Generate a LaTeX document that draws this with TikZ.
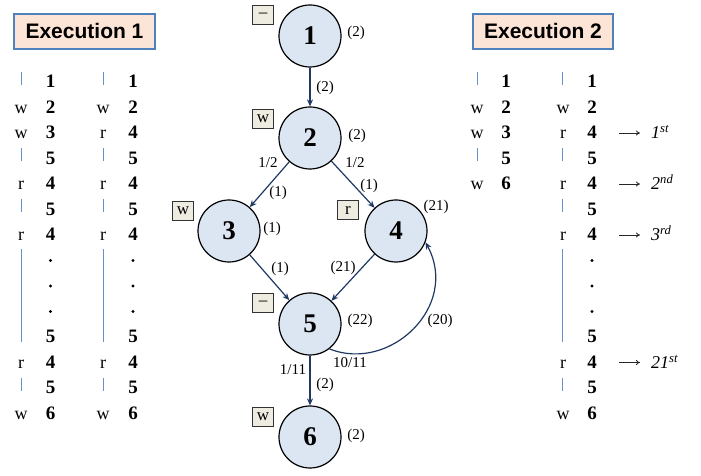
\documentclass[tikz,border=0pt]{standalone}
\usepackage{fontspec}
\setmainfont{Liberation Serif}
\newfontfamily\headfont{Liberation Sans}
\usetikzlibrary{arrows.meta,calc}
\definecolor{nodefill}{RGB}{220,230,242}
\definecolor{edgecol}{RGB}{31,56,100}
\definecolor{headfill}{RGB}{252,228,214}
\definecolor{headline}{RGB}{79,129,189}
\definecolor{tagfill}{RGB}{238,236,225}
\definecolor{tickcol}{RGB}{100,145,200}
\begin{document}
\begin{tikzpicture}[x=1pt,y=1pt,
  vnode/.style={circle, draw=black, line width=1.2pt, fill=nodefill, minimum size=62pt, inner sep=0pt, font=\fontsize{27}{27}\selectfont\bfseries},
  tagbox/.style={draw=black!80, line width=0.6pt, fill=tagfill, minimum width=21pt, minimum height=19pt, inner sep=0pt, font=\fontsize{17}{17}\selectfont},
  lab/.style={inner sep=0pt, font=\fontsize{15}{15}\selectfont},
  conn/.style={draw=edgecol, line width=1.2pt, -{Stealth[length=7pt,width=6pt]}},
  header/.style={draw=headline, line width=1.3pt, fill=headfill, minimum height=35pt, inner sep=0pt, font=\headfont\bfseries\fontsize{21}{21}\selectfont},
  num/.style={anchor=base, inner sep=0pt, font=\fontsize{19}{19}\selectfont\bfseries},
  letr/.style={anchor=base, inner sep=0pt, font=\fontsize{18}{18}\selectfont},
  tickmark/.style={draw=tickcol, line width=0.9pt},
  ord/.style={anchor=base west, inner sep=0pt, font=\fontsize{18}{18}\selectfont\itshape},
  ordarrow/.style={draw=black!85, line width=0.8pt, -{To[length=4pt,width=5pt]}}
]
\useasboundingbox (0,0) rectangle (701,476);

% headers
\node[header, minimum width=141pt] (h1) at (84.5,444.5) {Execution 1};
\node[header, minimum width=140pt] (h2) at (543,444.5) {Execution 2};

% graph nodes
\node[vnode] (n1) at (310,440) {1};
\node[vnode] (n2) at (310,338) {2};
\node[vnode] (n3) at (229,245) {3};
\node[vnode] (n4) at (396,245) {4};
\node[vnode] (n5) at (310,152) {5};
\node[vnode] (n6) at (310,39)  {6};

% access tags
\node[tagbox] (t1) at ($(n1)+(-47,21)$) {--};
\node[tagbox] (t2) at ($(n2)+(-47,19)$) {w};
\node[tagbox] (t3) at ($(n3)+(-46,20)$) {w};
\node[tagbox] (t4) at ($(n4)+(-48,21)$) {r};
\node[tagbox] (t5) at ($(n5)+(-47,21)$) {--};
\node[tagbox] (t6) at ($(n6)+(-47,20)$) {w};

% node counts
\node[lab] (c1) at (356,443) {(2)};
\node[lab] (c2) at (357,340) {(2)};
\node[lab] (c3) at (272,247) {(1)};
\node[lab] (c4) at (436,269) {(21)};
\node[lab] (c5) at (360,155) {(22)};
\node[lab] (c6) at (356,40)  {(2)};

% edges
\draw[conn] (n1) -- (n2);
\draw[conn] (n2) -- (n3);
\draw[conn] (n2) -- (n4);
\draw[conn] (n3) -- (n5);
\draw[conn] (n4) -- (n5);
\draw[conn] (n5) -- (n6);
\draw[conn] (n5.-52) .. controls (390,103) and (460,170) .. (n4.-21);

% edge counts and probabilities
\node[lab] (e12) at (325,388) {(2)};
\node[lab] (p23) at (268,313) {1/2};
\node[lab] (p24) at (355,313) {1/2};
\node[lab] (e23) at (278,283) {(1)};
\node[lab] (e24) at (369,290) {(1)};
\node[lab] (e35) at (280,207) {(1)};
\node[lab] (e45) at (343,208) {(21)};
\node[lab] (e54) at (440,155) {(20)};
\node[lab] (p54) at (350,113) {10/11};
\node[lab] (p56) at (293,106) {1/11};
\node[lab] (e56) at (325,91)  {(2)};

% ---- Execution 1, first trace
\foreach \i/\n in {0/1,1/2,2/3,3/5,4/4,5/5,6/4,10/5,11/4,12/5,13/6}
  \node[num] (La\i) at (50.5,{388-25.5*\i}) {\n};
\foreach \i/\l in {1/w,2/w,4/r,6/r,11/r,13/w}
  \node[letr] (Lal\i) at (21,{388-25.5*\i}) {\l};
\foreach \i in {0,3,5,12}
  \draw[tickmark] (21.5,{394-25.5*\i+10}) -- ++(0,-13);
\draw[tickmark] (21.5,227) -- (21.5,134);
\foreach \i in {7,8,9}
  \fill (50.5,{394-25.5*\i}) circle (1.6);

% ---- Execution 1, second trace
\foreach \i/\n in {0/1,1/2,2/4,3/5,4/4,5/5,6/4,10/5,11/4,12/5,13/6}
  \node[num] (Lb\i) at (133,{388-25.5*\i}) {\n};
\foreach \i/\l in {1/w,2/r,4/r,6/r,11/r,13/w}
  \node[letr] (Lbl\i) at (103,{388-25.5*\i}) {\l};
\foreach \i in {0,3,5,12}
  \draw[tickmark] (103.5,{394-25.5*\i+10}) -- ++(0,-13);
\draw[tickmark] (103.5,227) -- (103.5,134);
\foreach \i in {7,8,9}
  \fill (133,{394-25.5*\i}) circle (1.6);

% ---- Execution 2, first trace
\foreach \i/\n in {0/1,1/2,2/3,3/5,4/6}
  \node[num] (Ra\i) at (506,{388-25.5*\i}) {\n};
\foreach \i/\l in {1/w,2/w,4/w}
  \node[letr] (Ral\i) at (477,{388-25.5*\i}) {\l};
\foreach \i in {0,3}
  \draw[tickmark] (477,{394-25.5*\i+10}) -- ++(0,-13);

% ---- Execution 2, second trace
\foreach \i/\n in {0/1,1/2,2/4,3/5,4/4,5/5,6/4,10/5,11/4,12/5,13/6}
  \node[num] (Rb\i) at (592,{388-25.5*\i}) {\n};
\foreach \i/\l in {1/w,2/r,4/r,6/r,11/r,13/w}
  \node[letr] (Rbl\i) at (563,{388-25.5*\i}) {\l};
\foreach \i in {0,3,5,12}
  \draw[tickmark] (562.5,{394-25.5*\i+10}) -- ++(0,-13);
\draw[tickmark] (562.5,227) -- (562.5,134);
\foreach \i in {7,8,9}
  \fill (592,{394-25.5*\i}) circle (1.6);

% visits of node 4
\foreach \i/\t in {2/1\textsuperscript{st},4/2\textsuperscript{nd},6/3\textsuperscript{rd},11/21\textsuperscript{st}}{
  \node[ord] (o\i) at (651,{388-25.5*\i}) {\t};
  \coordinate (as\i) at (619,{394-25.5*\i});
  \coordinate (ae\i) at (640,{394-25.5*\i});
  \draw[ordarrow] (as\i) -- (ae\i);
}
\end{tikzpicture}
\end{document}
